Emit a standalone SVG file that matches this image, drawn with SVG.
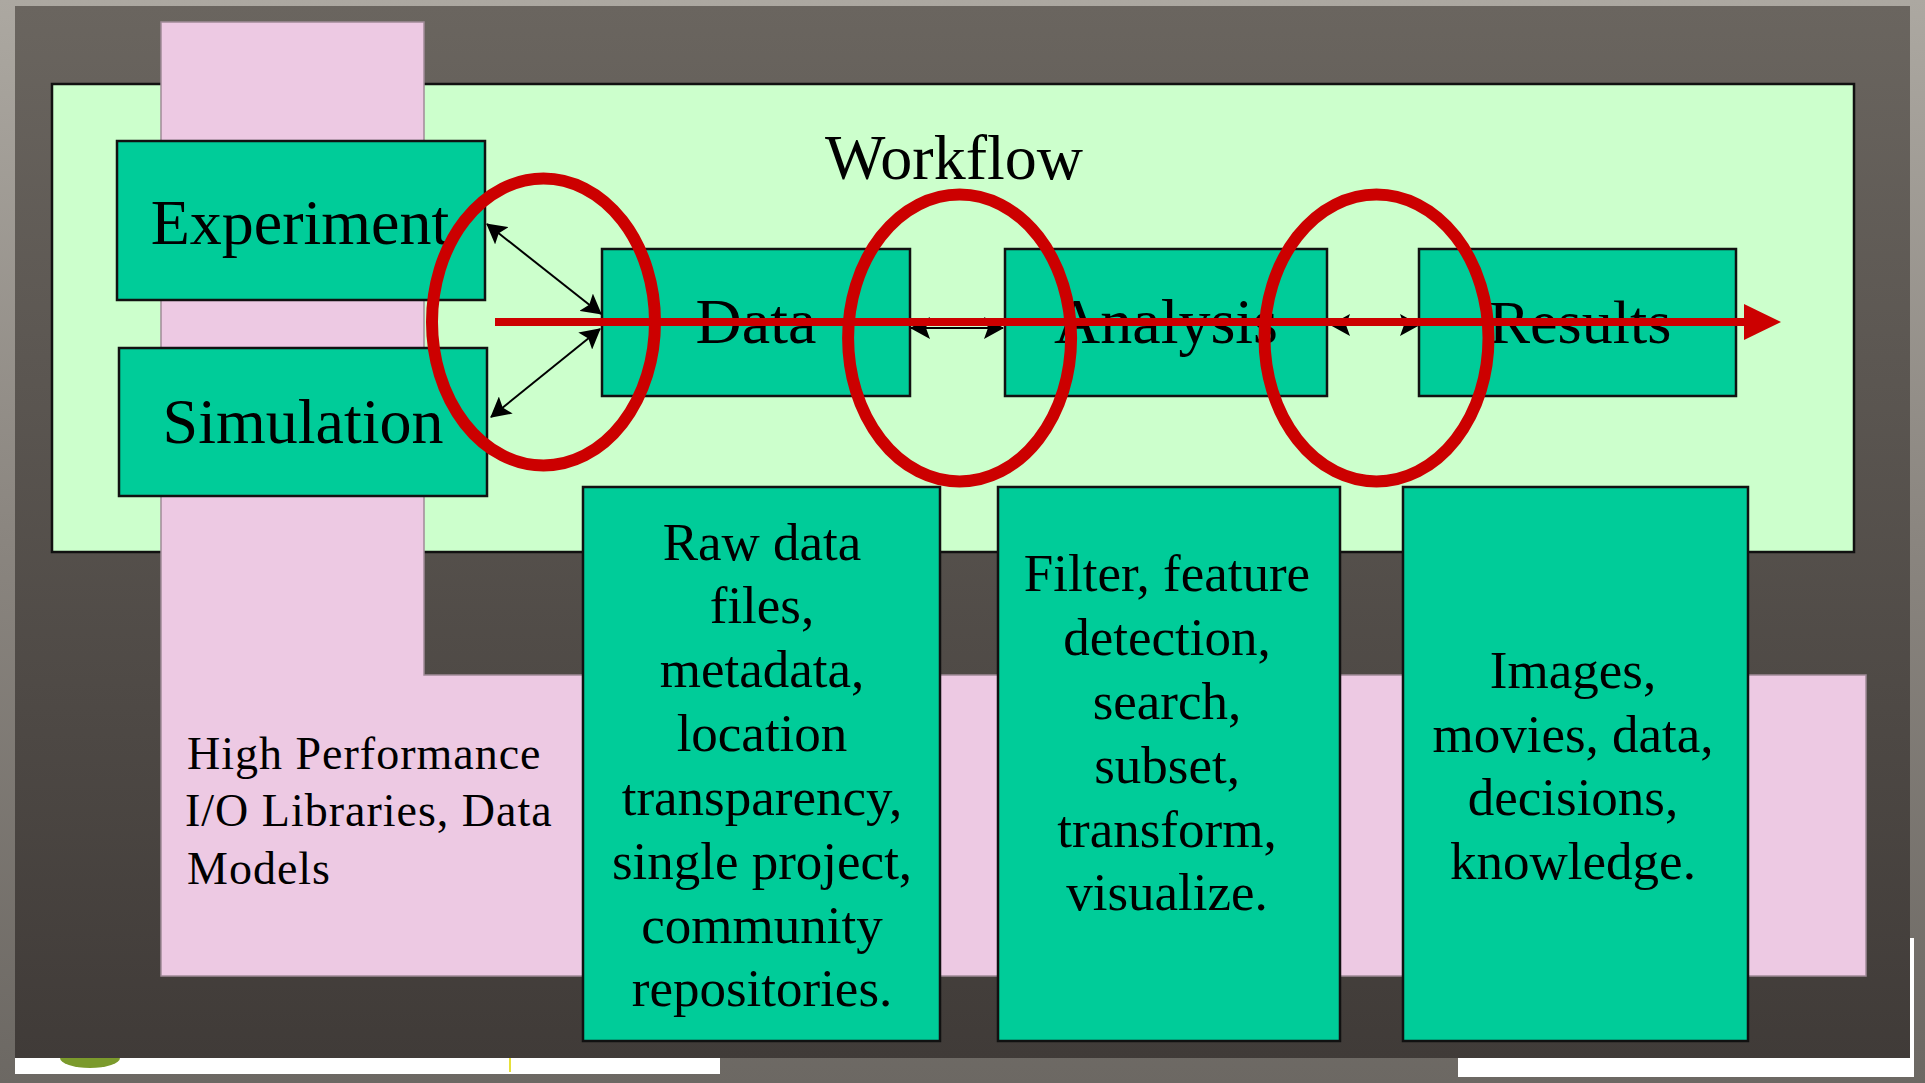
<svg xmlns="http://www.w3.org/2000/svg" width="1925" height="1083" viewBox="0 0 1925 1083">
  <defs>
    <linearGradient id="outerGrad" x1="0" y1="0" x2="0" y2="1">
      <stop offset="0" stop-color="#aca8a1"/>
      <stop offset="0.5" stop-color="#8a857f"/>
      <stop offset="1" stop-color="#6c6863"/>
    </linearGradient>
    <linearGradient id="slideGrad" x1="0" y1="0" x2="0" y2="1">
      <stop offset="0" stop-color="#6a655f"/>
      <stop offset="1" stop-color="#403b38"/>
    </linearGradient>
    <marker id="ah" viewBox="0 0 20 22" refX="19" refY="11" markerWidth="20" markerHeight="22" markerUnits="userSpaceOnUse" orient="auto-start-reverse">
      <path d="M0,0 L20,11 L0,22 L4,11 z" fill="#000"/>
    </marker>
    <style>
      .teal { fill: #00cc99; stroke: #111; stroke-width: 2.5; }
      .big { font-family: "Liberation Serif", "Times New Roman", serif; font-size: 64px; fill: #000; text-anchor: middle; }
      .desc { font-family: "Liberation Serif", "Times New Roman", serif; font-size: 53px; fill: #000; text-anchor: middle; }
      .hp { font-family: "Liberation Serif", "Times New Roman", serif; font-size: 46px; fill: #000; letter-spacing: 1px; }
      .conn { stroke: #000; stroke-width: 2; fill: none; marker-start: url(#ah); marker-end: url(#ah); }
      .ring { fill: none; stroke: #cc0000; stroke-width: 12; }
    </style>
  </defs>

  <!-- background / frame -->
  <rect x="0" y="0" width="1925" height="1083" fill="url(#outerGrad)"/>
  <rect x="15" y="1057" width="705" height="17" fill="#ffffff"/>
  <ellipse cx="90" cy="1058" rx="30" ry="10" fill="#7b9a2c"/>
  <rect x="509" y="1058" width="2" height="14" fill="#e6e03a"/>
  <rect x="1458" y="1057" width="456" height="20" fill="#ffffff"/>
  <rect x="1909" y="938" width="5" height="139" fill="#ffffff"/>
  <rect x="15" y="6" width="1895" height="1052" fill="url(#slideGrad)"/>

  <!-- workflow container -->
  <g id="workflow">
    <rect x="52" y="84" width="1802" height="468" fill="#ccffcc" stroke="#111" stroke-width="2.5"/>
    <text class="big" x="954" y="179">Workflow</text>
  </g>

  <!-- pink L-shaped layer -->
  <g id="io-libraries">
    <path d="M161,22 L424,22 L424,675 L1866,675 L1866,976 L161,976 Z" fill="#edc9e3" stroke="#a08a98" stroke-width="1.5"/>
    <text class="hp" x="187" y="769">High Performance</text>
    <text class="hp" x="185" y="826">I/O Libraries, Data</text>
    <text class="hp" x="187" y="884">Models</text>
  </g>

  <g id="experiment">
    <rect class="teal" x="117" y="141" width="368" height="159"/>
    <text class="big" x="300" y="244">Experiment</text>
  </g>
  <g id="simulation">
    <rect class="teal" x="119" y="348" width="368" height="148"/>
    <text class="big" x="303" y="443">Simulation</text>
  </g>
  <g id="data">
    <rect class="teal" x="602" y="249" width="308" height="147"/>
    <text class="big" x="756" y="343">Data</text>
  </g>
  <g id="analysis">
    <rect class="teal" x="1005" y="249" width="322" height="147"/>
    <text class="big" x="1166" y="343">Analysis</text>
  </g>
  <g id="results">
    <rect class="teal" x="1419" y="249" width="317" height="147"/>
    <text class="big" x="1580" y="343" style="font-size:62px">Results</text>
  </g>

  <g id="data-desc">
    <rect class="teal" x="583" y="487" width="357" height="554"/>
    <text class="desc" x="762" y="560">Raw data</text>
    <text class="desc" x="762" y="623">files,</text>
    <text class="desc" x="762" y="687">metadata,</text>
    <text class="desc" x="762" y="751">location</text>
    <text class="desc" x="762" y="815">transparency,</text>
    <text class="desc" x="762" y="879">single project,</text>
    <text class="desc" x="762" y="943">community</text>
    <text class="desc" x="762" y="1006">repositories.</text>
  </g>
  <g id="analysis-desc">
    <rect class="teal" x="998" y="487" width="342" height="554"/>
    <text class="desc" x="1167" y="591">Filter, feature</text>
    <text class="desc" x="1167" y="655">detection,</text>
    <text class="desc" x="1167" y="719">search,</text>
    <text class="desc" x="1167" y="783">subset,</text>
    <text class="desc" x="1167" y="847">transform,</text>
    <text class="desc" x="1167" y="910">visualize.</text>
  </g>
  <g id="results-desc">
    <rect class="teal" x="1403" y="487" width="345" height="554"/>
    <text class="desc" x="1573" y="688">Images,</text>
    <text class="desc" x="1573" y="752">movies, data,</text>
    <text class="desc" x="1573" y="815">decisions,</text>
    <text class="desc" x="1573" y="879">knowledge.</text>
  </g>

  <!-- connectors -->
  <g id="connectors">
    <path class="conn" d="M487,224 L601,314"/>
    <path class="conn" d="M491,417 L600,329"/>
    <path class="conn" d="M911,328 L1003,328"/>
    <path class="conn" d="M1331,325 L1419,325"/>
  </g>

  <!-- red highlight overlay -->
  <g id="highlights">
    <ellipse class="ring" cx="543.5" cy="322" rx="111.5" ry="143.5"/>
    <ellipse class="ring" cx="959.6" cy="338" rx="111.5" ry="143.5"/>
    <ellipse class="ring" cx="1376.5" cy="338" rx="112" ry="143.5"/>
    <line x1="495" y1="322" x2="1746" y2="322" stroke="#cc0000" stroke-width="8"/>
    <polygon points="1744,304 1781,322 1744,340" fill="#cc0000"/>
  </g>
</svg>
